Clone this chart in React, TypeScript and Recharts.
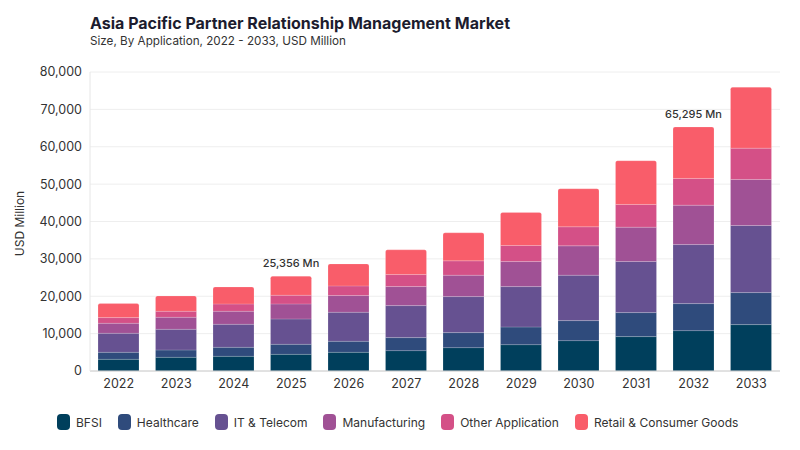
import React from "react";
import { BarChart, Bar, XAxis, YAxis, CartesianGrid, LabelList } from "recharts";

const years = ["2022", "2023", "2024", "2025", "2026", "2027", "2028", "2029", "2030", "2031", "2032", "2033"];
const bfsi = [3125, 3660, 3930, 4460, 5000, 5450, 6250, 7050, 8125, 9200, 10800, 12410];
const healthcare = [1875, 1960, 2410, 2680, 2950, 3480, 4020, 4730, 5360, 6430, 7230, 8570];
const itTelecom = [5090, 5540, 6160, 6790, 7770, 8570, 9640, 10800, 12140, 13660, 15800, 17950];
const manufacturing = [2680, 3210, 3480, 4020, 4460, 5090, 5720, 6700, 7860, 9200, 10540, 12320];
const otherApplication = [1520, 1610, 1960, 2320, 2590, 3210, 3840, 4290, 5090, 6070, 7145, 8380];
const retail = [3750, 4110, 4550, 5086, 5890, 6610, 7500, 8840, 10180, 11700, 13780, 16300];
const annotations: Record<string, string> = { "2025": "25,356 Mn", "2032": "65,295 Mn" };
const yTicks = [0, 10000, 20000, 30000, 40000, 50000, 60000, 70000, 80000];

const series = [
  { key: "bfsi", name: "BFSI", color: "#003f5c", values: bfsi },
  { key: "healthcare", name: "Healthcare", color: "#2f4b7c", values: healthcare },
  { key: "it", name: "IT & Telecom", color: "#665191", values: itTelecom },
  { key: "manufacturing", name: "Manufacturing", color: "#a05195", values: manufacturing },
  { key: "other", name: "Other Application", color: "#d45087", values: otherApplication },
  { key: "retail", name: "Retail & Consumer Goods", color: "#f95d6a", values: retail },
];

const data = years.map((y, i) => {
  const row: Record<string, any> = { year: y };
  series.forEach((s) => (row[s.key] = s.values[i]));
  return row;
});

const FONT = "Inter, 'DejaVu Sans', sans-serif";

const renderAnnotation = (props: any) => {
  const { x, y, width, index } = props;
  const label = annotations[years[index]];
  if (!label) return null;
  return (
    <text x={x + width / 2} y={y - 9} textAnchor="middle" fontSize={11} fill="#333" fontWeight={500} fontFamily={FONT}>
      {label}
    </text>
  );
};

export default function App() {
  return (
    <div style={{ position: "fixed", left: 0, top: 0, width: 800, height: 450, background: "#fff", fontFamily: FONT }}>
      <div style={{ position: "absolute", left: 90, top: 13, fontSize: 16, fontWeight: 700, color: "#1c1c2e" }}>
        Asia Pacific Partner Relationship Management Market
      </div>
      <div style={{ position: "absolute", left: 90, top: 34, fontSize: 11.7, color: "#333" }}>
        Size, By Application, 2022 - 2033, USD Million
      </div>
      <div style={{ position: "absolute", left: 0, top: 0 }}>
        <BarChart
          width={800}
          height={405}
          data={data}
          margin={{ top: 72, right: 20, bottom: 4, left: 0 }}
          barSize={41}
        >
          <CartesianGrid vertical={false} stroke="#eeeeee" />
          <XAxis
            dataKey="year"
            axisLine={{ stroke: "#cccccc" }}
            tickLine={false}
            tick={{ fontSize: 12.5, fill: "#333", fontFamily: FONT }}
            height={30}
          />
          <YAxis
            width={90}
            domain={[0, 80000]}
            ticks={yTicks}
            interval={0}
            axisLine={{ stroke: "#e6e6e6" }}
            tickLine={false}
            tick={{ fontSize: 12.5, fill: "#333", fontFamily: FONT }}
            tickFormatter={(v: number) => v.toLocaleString("en-US")}
            label={{ value: "USD Million", angle: -90, position: "insideLeft", offset: 20, dy: 2, style: { fontSize: 12, fill: "#333", fontFamily: FONT, textAnchor: "middle" } }}
          />
          {series.map((s, i) => (
            <Bar
              key={s.key}
              dataKey={s.key}
              name={s.name}
              stackId="a"
              fill={s.color}
              stroke="rgba(255,255,255,0.35)"
              strokeWidth={0.5}
              isAnimationActive={false}
              radius={i === series.length - 1 ? [2, 2, 0, 0] : 0}
            >
              {i === series.length - 1 && <LabelList dataKey={s.key} content={renderAnnotation} />}
            </Bar>
          ))}
        </BarChart>
      </div>
      <div style={{ position: "absolute", left: 57, top: 414, display: "flex", alignItems: "center", fontSize: 12, color: "#333" }}>
        {series.map((s) => (
          <div key={s.key} style={{ display: "flex", alignItems: "center", marginRight: 16 }}>
            <span style={{ display: "inline-block", width: 13, height: 16, borderRadius: 4, background: s.color, marginRight: 6 }} />
            <span>{s.name}</span>
          </div>
        ))}
      </div>
    </div>
  );
}
